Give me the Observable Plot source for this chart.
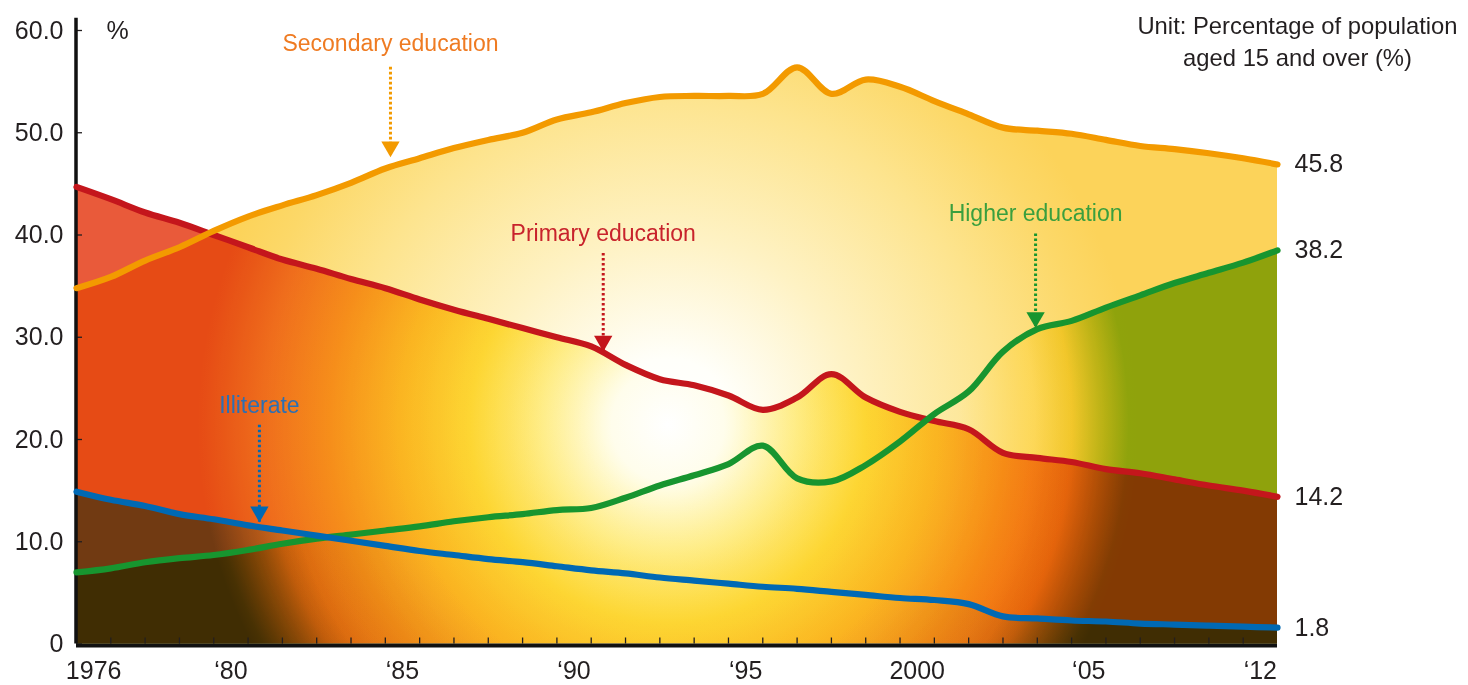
<!DOCTYPE html>
<html><head><meta charset="utf-8">
<script src="https://cdn.jsdelivr.net/npm/d3@7"></script>
<script src="https://cdn.jsdelivr.net/npm/@observablehq/plot@0.6"></script>
<style>
html,body{margin:0;padding:0;background:#fff;}
#chart svg{display:block;}
</style></head><body><div id="chart"></div>
<script>
// ---- data (index 0 = 1976 ... 35 = end of series, '12) ----
const idx = d3.range(36);
const secondary = [34.8,35.9,37.5,38.8,40.4,41.8,42.9,43.9,45.1,46.5,47.5,48.5,49.3,50.0,51.3,52.0,52.9,53.5,53.6,53.6,53.8,56.4,53.8,55.2,54.5,53.1,51.8,50.5,50.2,49.9,49.3,48.7,48.4,48.0,47.5,46.9];
const primary   = [44.7,43.5,42.2,41.2,40.0,38.8,37.6,36.7,35.7,34.8,33.7,32.7,31.8,30.9,30.0,29.1,27.3,25.9,25.3,24.3,22.9,24.1,26.4,24.1,22.7,21.8,21.0,18.7,18.2,17.8,17.1,16.7,16.1,15.5,15.0,14.4];
const higher    = [7.0,7.4,8.0,8.4,8.7,9.2,9.8,10.3,10.7,11.1,11.5,12.0,12.4,12.7,13.1,13.3,14.3,15.5,16.5,17.6,19.4,16.2,15.9,17.5,19.8,22.5,24.7,28.6,30.8,31.6,32.9,34.1,35.3,36.3,37.3,38.5];
const illiterate= [14.9,14.1,13.5,12.7,12.2,11.6,11.1,10.6,10.1,9.6,9.1,8.7,8.3,8.0,7.6,7.2,6.9,6.5,6.2,5.9,5.6,5.4,5.1,4.8,4.5,4.3,3.9,2.7,2.5,2.3,2.2,2.0,1.9,1.8,1.7,1.6];

const yTicks = [0,10,20,30,40,50,60];
const xLabelIndex = [0,4,9,14,19,24,29,34];
const xLabels = ["1976","‘80","‘85","‘90","‘95","2000","‘05","‘12"];
const seriesKeys = ["secondary","primary","higher","illiterate"];
const seriesNames = ["Secondary education","Primary education","Higher education","Illiterate"];
const endLabels = ["45.8","14.2","38.2","1.8"];
const unitText = "Unit: Percentage of population\naged 15 and over (%)";
// annotation anchors in data units
const annX     = [9.15, 15.35, 27.95, 5.33];
const annTextY = [58.0, 39.4, 41.4, 22.6];
const annFromY = [56.4, 38.2, 40.1, 21.4];
const annTipY  = [47.6, 28.6, 30.9, 11.9];

// ---- styles ----
const lineColors = ["#f39a00","#c4161c","#17952f","#0069b4"];
const textColors = ["#ef7b22","#c8232c","#3a9f3e","#2d6fb3"];
const gradIds = ["g-sec","g-pri","g-hig","g-ill"];
const gradStops = [
  [[0,"#ffffff"],[0.14,"#fffffa"],[0.4,"#fef2c4"],[0.7,"#fde48e"],[0.9,"#fcd868"],[1,"#fcd35a"]],
  [[0,"#ffffff"],[0.12,"#fffdf0"],[0.27,"#fff39a"],[0.42,"#fee344"],[0.57,"#fcc633"],[0.72,"#f8a030"],[0.86,"#f28040"],[0.94,"#ec6a3c"],[1,"#e95a3a"]],
  [[0,"#ffffff"],[0.62,"#ffffff"],[0.78,"#fff6b0"],[0.86,"#f4e860"],[0.93,"#b9d232"],[0.98,"#91c421"],[1,"#91c421"]],
  [[0,"#ffffff"],[0.58,"#ffffff"],[0.82,"#eef6f7"],[0.93,"#b0dae6"],[1,"#7dc5db"]]
];

const rows = idx.map(i => ({i, secondary: secondary[i], primary: primary[i], higher: higher[i], illiterate: illiterate[i]}));
const last = rows[rows.length - 1];
const annIdx = d3.range(seriesNames.length);

const W = 1468, H = 685, mL = 76, mR = 191, mT = 30, mB = 41.5;
const frameW = W - mL - mR, frameH = H - mT - mB;
const font = "'Liberation Sans', Arial, Helvetica, sans-serif";
const labelMap = new Map(xLabelIndex.map((k, j) => [k + 0.5, xLabels[j]]));

const areaMarks = seriesKeys.map((k, j) => Plot.areaY(rows, {
  x: "i", y1: 0, y2: k, fill: "#888888", curve: "catmull-rom"
}));
const lineOrder = [1, 2, 3, 0];
const lineMarks = lineOrder.map(j => Plot.line(rows, {
  x: "i", y: seriesKeys[j], stroke: lineColors[j], strokeWidth: 6.2, curve: "catmull-rom", strokeLinecap: "round", strokeLinejoin: "round"
}));

const chart = Plot.plot({
  width: W, height: H, marginLeft: mL, marginRight: mR, marginTop: mT, marginBottom: mB,
  x: {domain: [0, 35]},
  y: {domain: [0, 60]},
  style: {fontFamily: font, fontSize: "25px", color: "#231f20", background: "transparent", overflow: "visible"},
  marks: [
    ...areaMarks,
    Plot.tickY(yTicks, {y: d => d, insetRight: frameW - 6, stroke: "#231f20", strokeWidth: 1.3}),
    Plot.tickX(d3.range(1, 35), {x: d => d, insetTop: frameH - 6, stroke: "#231f20", strokeWidth: 1.3}),
    Plot.ruleY([0], {stroke: "#111", strokeWidth: 4, dy: 1.5}),
    Plot.ruleX([0], {y1: 0, y2: 61.2, stroke: "#111", strokeWidth: 3.5, dx: -0.5}),
    Plot.axisY({ticks: yTicks, tickSize: 0, tickPadding: 13, tickFormat: d => d === 0 ? "0" : d.toFixed(1), fontSize: 25, label: null}),
    Plot.axisX({ticks: [...labelMap.keys()], tickSize: 0, tickPadding: 17, tickFormat: d => labelMap.get(d), fontSize: 25, label: null}),
    ...lineMarks,
    Plot.text(annIdx, {x: j => 35, y: j => last[seriesKeys[j]], text: j => endLabels[j], dx: 17, textAnchor: "start", fontSize: 25, fill: "#231f20"}),
    Plot.ruleX(annIdx, {x: j => annX[j], y1: j => annFromY[j], y2: j => annTipY[j], stroke: j => lineColors[j], strokeWidth: 3, strokeDasharray: "2.6,2.4"}),
    Plot.dot(annIdx, {x: j => annX[j], y: j => annTipY[j], symbol: "triangle", rotate: 180, r: 6.8, dy: -10.5, fill: j => lineColors[j], stroke: "none"}),
    Plot.text(annIdx, {x: j => annX[j], y: j => annTextY[j], text: j => seriesNames[j], fill: j => textColors[j], fontSize: 23, lineAnchor: "bottom"}),
    Plot.text(["%"], {frameAnchor: "top-left", dx: 30, text: d => d, fontSize: 25, lineAnchor: "middle", fill: "#231f20"}),
    Plot.text([unitText], {frameAnchor: "top-right", dx: 20, dy: 9, text: d => d, fontSize: 23.8, textAnchor: "middle", lineAnchor: "middle", lineHeight: 1.34, fill: "#231f20"})
  ]
});

// radial gradients for the sun-like glow, positioned through the scales
const xs = chart.scale("x"), ys = chart.scale("y");
const cx = xs.apply(17.25), cy = ys.apply(21.4), rx = 470, ry = 470;
const svg = d3.select(chart);
const defs = svg.insert("defs", ":first-child");
gradIds.forEach((id, j) => {
  const g = defs.append("radialGradient").attr("id", id).attr("gradientUnits", "userSpaceOnUse")
    .attr("cx", 0).attr("cy", 0).attr("r", 1)
    .attr("gradientTransform", `translate(${cx},${cy}) scale(${rx},${ry})`);
  gradStops[j].forEach(([o, c]) => g.append("stop").attr("offset", o).attr("stop-color", c));
});
const areaGroups = svg.selectAll('g[aria-label="area"]').nodes();
areaGroups.forEach((node, j) => {
  const g = d3.select(node);
  g.attr("fill", `url(#${gradIds[j]})`).style("mix-blend-mode", "multiply");
  g.selectAll("path").attr("fill", `url(#${gradIds[j]})`);
});
svg.style("isolation", "isolate");
document.getElementById("chart").appendChild(chart);
</script>
</body></html>
